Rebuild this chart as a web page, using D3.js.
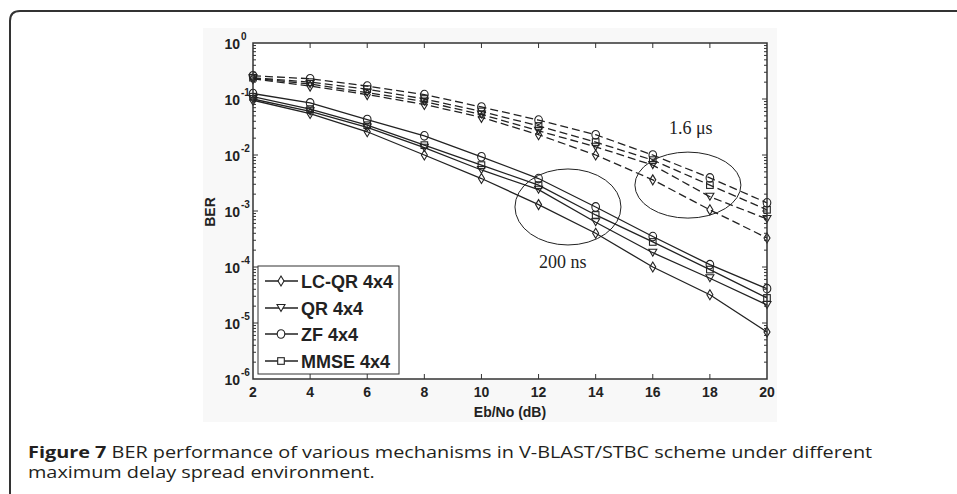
<!DOCTYPE html>
<html>
<head>
<meta charset="utf-8">
<script src="https://cdn.jsdelivr.net/npm/d3@7"></script>
<style>
  body { margin: 0; background: #fff; }
  svg { display: block; }
</style>
</head>
<body>
<svg width="957" height="494"></svg>
<script>
// Eb/No values (dB)
var ebno = [2, 4, 6, 8, 10, 12, 14, 16, 18, 20];

// 200 ns delay spread (solid lines)
var lcqr200 = [0.095, 0.055, 0.026, 0.010, 0.0038, 0.0013, 0.0004, 0.0001, 0.000032, 0.0000069];
var qr200   = [0.10, 0.06, 0.031, 0.0135, 0.0054, 0.0024, 0.00063, 0.00018, 0.000063, 0.000021];
var zf200   = [0.125, 0.085, 0.043, 0.022, 0.0093, 0.0038, 0.00118, 0.00035, 0.00011, 0.000041];
var mmse200 = [0.11, 0.066, 0.034, 0.015, 0.0066, 0.0029, 0.00085, 0.00028, 0.00009, 0.000028];

// 1.6 us delay spread (dashed lines)
var lcqr16 = [0.23, 0.17, 0.12, 0.08, 0.047, 0.023, 0.010, 0.0036, 0.00105, 0.00033];
var qr16   = [0.235, 0.185, 0.13, 0.09, 0.053, 0.027, 0.014, 0.0066, 0.0018, 0.00072];
var zf16   = [0.26, 0.23, 0.17, 0.12, 0.072, 0.042, 0.023, 0.010, 0.0039, 0.0014];
var mmse16 = [0.24, 0.20, 0.15, 0.10, 0.06, 0.033, 0.017, 0.0081, 0.0029, 0.00105];

var legendNames = ["LC-QR 4x4", "QR 4x4", "ZF 4x4", "MMSE 4x4"];
var markers = ["diamond", "triangle", "circle", "square"];
var xTicks = [2, 4, 6, 8, 10, 12, 14, 16, 18, 20];
var yExps = [0, -1, -2, -3, -4, -5, -6];

var series = [
  {vals: lcqr200, m: "diamond", dash: false},
  {vals: qr200, m: "triangle", dash: false},
  {vals: zf200, m: "circle", dash: false},
  {vals: mmse200, m: "square", dash: false},
  {vals: lcqr16, m: "diamond", dash: true},
  {vals: qr16, m: "triangle", dash: true},
  {vals: zf16, m: "circle", dash: true},
  {vals: mmse16, m: "square", dash: true}
];

var svg = d3.select("svg");
var ink = "#222";

// outer frame of the figure
svg.append("path")
  .attr("d", "M10,500 L10,21 Q10,11 20,11 L970,11")
  .attr("fill", "none").attr("stroke", "#333").attr("stroke-width", 2);

// faint figure background
svg.append("rect").attr("x", 203).attr("y", 28).attr("width", 574).attr("height", 394)
  .attr("fill", "#f8f8f8");

var pLeft = 253, pRight = 767, pTop = 43, pBottom = 379;
var x = d3.scaleLinear().domain([2, 20]).range([pLeft, pRight]);
var y = d3.scaleLog().domain([1e-6, 1]).range([pBottom, pTop]);

svg.append("rect").attr("x", pLeft).attr("y", pTop)
  .attr("width", pRight - pLeft).attr("height", pBottom - pTop)
  .attr("fill", "#fff");

var g = svg.append("g");

// ticks
var tickG = g.append("g").attr("stroke", "#333").attr("stroke-width", 1);
xTicks.forEach(function(t) {
  if (t == 2 || t == 20) return;
  tickG.append("line").attr("x1", x(t)).attr("x2", x(t)).attr("y1", pBottom).attr("y2", pBottom - 5);
  tickG.append("line").attr("x1", x(t)).attr("x2", x(t)).attr("y1", pTop).attr("y2", pTop + 5);
});
for (var e = -6; e < 0; e++) {
  for (var k = 1; k <= 9; k++) {
    var v = k * Math.pow(10, e);
    var len = k == 1 ? 5 : 3;
    if (k == 1 && e == -6) continue;
    tickG.append("line").attr("x1", pLeft).attr("x2", pLeft + len).attr("y1", y(v)).attr("y2", y(v));
    tickG.append("line").attr("x1", pRight).attr("x2", pRight - len).attr("y1", y(v)).attr("y2", y(v));
  }
}

// tick labels
xTicks.forEach(function(t) {
  g.append("text").attr("x", x(t)).attr("y", pBottom + 18)
    .attr("text-anchor", "middle")
    .attr("font-family", "Liberation Sans, Arial, sans-serif")
    .attr("font-weight", "bold").attr("font-size", 14).attr("fill", ink)
    .text(t);
});
yExps.forEach(function(p) {
  var yy = y(Math.pow(10, p));
  g.append("text").attr("x", pLeft - 13).attr("y", yy + 6)
    .attr("text-anchor", "end")
    .attr("font-family", "Liberation Sans, Arial, sans-serif")
    .attr("font-weight", "bold").attr("font-size", 14).attr("fill", ink)
    .text("10");
  g.append("text").attr("x", pLeft - 12).attr("y", yy - 3)
    .attr("font-family", "Liberation Sans, Arial, sans-serif")
    .attr("font-weight", "bold").attr("font-size", 10).attr("fill", ink)
    .text(p);
});

// axis titles
g.append("text").attr("x", (pLeft + pRight) / 2).attr("y", pBottom + 38)
  .attr("text-anchor", "middle")
  .attr("font-family", "Liberation Sans, Arial, sans-serif")
  .attr("font-weight", "bold").attr("font-size", 14).attr("fill", ink)
  .text("Eb/No (dB)");
g.append("text")
  .attr("transform", "translate(215,212) rotate(-90)")
  .attr("text-anchor", "middle")
  .attr("font-family", "Liberation Sans, Arial, sans-serif")
  .attr("font-weight", "bold").attr("font-size", 14).attr("fill", ink)
  .text("BER");

// marker shapes
function marker(sel, type) {
  if (type == "diamond") {
    sel.append("path").attr("d", "M0,-5 L3,0 L0,5 L-3,0 Z");
  } else if (type == "triangle") {
    sel.append("path").attr("d", "M-4,-3.5 L4,-3.5 L0,3.5 Z");
  } else if (type == "circle") {
    sel.append("ellipse").attr("rx", 3.8).attr("ry", 4.3);
  } else {
    sel.append("rect").attr("x", -3.3).attr("y", -3.3).attr("width", 6.6).attr("height", 6.6);
  }
}

var line = d3.line()
  .x(function(d) { return x(d[0]); })
  .y(function(d) { return y(d[1]); });

var plotG = g.append("g");
series.forEach(function(s) {
  var pts = ebno.map(function(t, i) { return [t, s.vals[i]]; });
  plotG.append("path").datum(pts)
    .attr("d", line)
    .attr("fill", "none").attr("stroke", ink).attr("stroke-width", 1.3)
    .attr("stroke-dasharray", s.dash ? "8,4" : null);
  plotG.selectAll(null).data(pts).enter().append("g")
    .attr("transform", function(d) { return "translate(" + x(d[0]) + "," + y(d[1]) + ")"; })
    .attr("fill", "none").attr("stroke", ink).attr("stroke-width", 1.1)
    .each(function() { marker(d3.select(this), s.m); });
});

// plot border
g.append("rect").attr("x", pLeft).attr("y", pTop)
  .attr("width", pRight - pLeft).attr("height", pBottom - pTop)
  .attr("fill", "none").attr("stroke", "#333").attr("stroke-width", 1.5);

// annotations
var ann = g.append("g").attr("fill", "none").attr("stroke", ink).attr("stroke-width", 1);
ann.append("ellipse").attr("cx", x(17.23)).attr("cy", y(0.0029)).attr("rx", 53).attr("ry", 33);
ann.append("ellipse").attr("cx", x(13.03)).attr("cy", y(0.00118)).attr("rx", 53).attr("ry", 38);
g.append("text").attr("x", x(17.33)).attr("y", y(0.030) + 6)
  .attr("text-anchor", "middle")
  .attr("font-family", "Liberation Serif, Times New Roman, serif")
  .attr("font-size", 18).attr("fill", ink)
  .text("1.6 \u03bcs");
g.append("text").attr("x", x(12.85)).attr("y", y(0.000123) + 6)
  .attr("text-anchor", "middle")
  .attr("font-family", "Liberation Serif, Times New Roman, serif")
  .attr("font-size", 18).attr("fill", ink)
  .text("200 ns");

// legend
var lg = g.append("g");
lg.append("rect").attr("x", 258).attr("y", 266).attr("width", 141).attr("height", 108)
  .attr("fill", "#fff").attr("stroke", "#333").attr("stroke-width", 1);
var legY = [281, 308, 334, 361];
legendNames.forEach(function(name, i) {
  var row = lg.append("g").attr("transform", "translate(0," + legY[i] + ")");
  row.append("line").attr("x1", 265).attr("x2", 298).attr("y1", 0).attr("y2", 0)
    .attr("stroke", ink).attr("stroke-width", 1.3);
  var mk = row.append("g").attr("transform", "translate(281,0)")
    .attr("fill", "#fff").attr("stroke", ink).attr("stroke-width", 1.1);
  marker(mk, markers[i]);
  row.append("text").attr("x", 301).attr("y", 6.5)
    .attr("font-family", "Liberation Sans, Arial, sans-serif")
    .attr("font-weight", "bold").attr("font-size", 18).attr("fill", ink)
    .text(name);
});

// caption
var cap = svg.append("g").attr("font-family", "Open Sans, sans-serif")
  .attr("font-size", 16).attr("fill", "#231f20");
var t1 = cap.append("text").attr("x", 0).attr("y", 458);
t1.append("tspan").attr("font-weight", "bold").text("Figure 7");
t1.append("tspan").text(" BER performance of various mechanisms in V-BLAST/STBC scheme under different");
cap.append("text").attr("x", 0).attr("y", 478).text("maximum delay spread environment.");
var w = t1.node().getComputedTextLength();
cap.attr("transform", "translate(28,0) scale(" + (845 / w) + ",1)");
</script>
</body>
</html>
